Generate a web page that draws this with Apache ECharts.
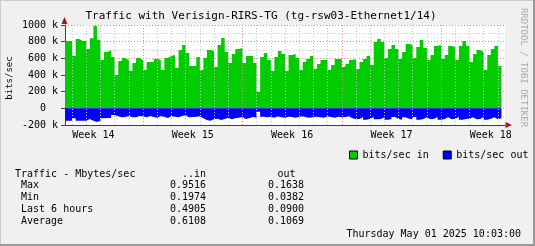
<!DOCTYPE html>
<html><head><meta charset="utf-8">
<script src="https://cdn.jsdelivr.net/npm/echarts@6/dist/echarts.min.js"></script>
<style>html,body{margin:0;padding:0;background:#f0f0f0;overflow:hidden}#c{width:535px;height:246px}</style>
</head><body><div id="c"></div>
<script>
const titleText = 'Traffic with Verisign-RIRS-TG (tg-rsw03-Ethernet1/14)';
const unitLabel = 'bits/sec';
const watermark = 'RRDTOOL / TOBI OETIKER';
const stepHours = 6;
const spanHours = 744;
// 6-hourly averages, k bits/sec
const inValues = [
 808,808,628,832,808,808,712,840,988,820,580,676,700,616,400,568,604,580,448,544,
 604,580,460,556,556,592,580,460,604,628,640,484,700,760,664,508,508,616,
 460,604,700,688,496,760,844,676,544,652,712,724,544,628,628,544,196,616,664,580,
 448,616,688,652,448,640,652,604,460,556,592,628,472,532,580,580,460,520,592,592,496,532,
 580,592,472,556,592,628,520,796,832,796,604,712,760,712,592,676,772,760,604,736,
 820,724,580,640,748,760,592,640,748,736,580,748,808,748,556,652,700,676,460,640,712,748,508
];
const outValues = [
 148,148,120,148,148,148,128,148,164,148,
 120,116,116,80,96,108,104,92,108,108,92,
 96,108,92,104,112,92,100,116,92,100,108,92,84,108,104,100,96,
 120,140,148,132,124,140,128,112,132,120,112,104,128,116,104,112,40,100,
 108,100,112,96,108,112,100,104,112,100,96,108,112,104,100,108,112,96,104,112,100,108,104,96,
 120,132,128,104,136,124,104,132,128,108,136,132,104,128,136,108,124,132,104,136,128,108,132,124,
 104,136,128,108,132,124,104,136,128,124,108,132,128,104,136,124,108,132,120
];
const dayLines = [12,36,60,84,108,132,156,180,204,228,252,276,300,324,348,372,396,420,444,468,492,516,540,564,588,612,636,660,684,708,732];
const weekLines = [132,300,468,636];
const weekLabelAt = [48,216,384,552,720];
const weekLabels = ['Week 14','Week 15','Week 16','Week 17','Week 18'];
const seriesNames = ['bits/sec in','bits/sec out'];
const statHeader = ['Traffic - Mbytes/sec','..in','out'];
const statRows = ['Max','Min','Last 6 hours','Average'];
const statIn = ['0.9516','0.1974','0.4905','0.6108'];
const statOut = ['0.1638','0.0382','0.0900','0.1069'];
const dateText = 'Thursday May 01 2025 10:03:00';

const MONO = '"DejaVu Sans Mono", monospace';
function stepData(vals, sign){
  const d = vals.map((v,i)=>[i*stepHours, sign*v]);
  d.push([vals.length*stepHours, sign*vals[vals.length-1]]);
  return d;
}
const chart = echarts.init(document.getElementById('c'), null, {renderer:'canvas'});
const gridLine = (x,c)=>({xAxis:x, lineStyle:{color:c, type:[1,2], width:1}});
const statTexts = [];
const rowY = [185, 197.3, 209.3, 221.7];
statTexts.push({type:'text', x:15, y:174.3, style:{text:statHeader[0], font:'10px '+MONO, fill:'#000', verticalAlign:'middle'}});
statTexts.push({type:'text', x:206, y:174.3, style:{text:statHeader[1], font:'10px '+MONO, fill:'#000', align:'right', verticalAlign:'middle'}});
statTexts.push({type:'text', x:295.5, y:174.3, style:{text:statHeader[2], font:'10px '+MONO, fill:'#000', align:'right', verticalAlign:'middle'}});
statRows.forEach((r,i)=>{
  statTexts.push({type:'text', x:21, y:rowY[i], style:{text:r, font:'10px '+MONO, fill:'#000', verticalAlign:'middle'}});
  statTexts.push({type:'text', x:206, y:rowY[i], style:{text:statIn[i], font:'10px '+MONO, fill:'#000', align:'right', verticalAlign:'middle'}});
  statTexts.push({type:'text', x:304, y:rowY[i], style:{text:statOut[i], font:'10px '+MONO, fill:'#000', align:'right', verticalAlign:'middle'}});
});
chart.setOption({
  animation:false,
  backgroundColor:'#f0f0f0',
  grid:{left:65, top:25, width:440, height:100, show:true, backgroundColor:'#ffffff', borderWidth:0},
  legend:{data:seriesNames, left:344, top:145, icon:'rect', itemWidth:8, itemHeight:8, itemGap:14, itemTextGap:5,
    itemStyle:{borderColor:'#000', borderWidth:1},
    textStyle:{fontFamily:MONO, fontSize:10, color:'#000'}, selectedMode:false},
  xAxis:[{type:'value', min:0, max:spanHours,
    axisLine:{show:true, onZero:false, lineStyle:{color:'#404040', width:1}},
    axisTick:{show:false}, splitLine:{show:false},
    axisLabel:{show:true, customValues:weekLabelAt, margin:5, fontFamily:MONO, fontSize:10, color:'#000',
      formatter:(v)=>{const k=weekLabelAt.indexOf(v); return k>=0?weekLabels[k]:'';}}}],
  yAxis:[{type:'value', min:-200, max:1000, interval:200,
    axisLine:{show:true, lineStyle:{color:'#404040', width:1}},
    axisTick:{show:true, length:4, lineStyle:{color:'#404040'}},
    axisLabel:{margin:7, fontFamily:MONO, fontSize:10, color:'#000', formatter:(v)=> v===0 ? '0  ' : v+' k'},
    splitLine:{show:true, lineStyle:{color:'#e08a8a', type:[1,2], width:1}},
    minorTick:{show:false, splitNumber:2},
    minorSplitLine:{show:true, lineStyle:{color:'#c8c8c8', type:[1,2], width:1}}}],
  series:[
    {type:'line', name:'grid', data:[], z:1, silent:true,
     markLine:{silent:true, symbol:'none', label:{show:false}, animation:false,
       data: dayLines.map(h=>gridLine(h,'#c8c8c8')).concat(weekLines.map(h=>gridLine(h,'#e08a8a')))}},
    {type:'line', name:seriesNames[0], step:'end', symbol:'none', showSymbol:false, silent:true, z:3,
     color:'#00cc00', lineStyle:{width:0}, areaStyle:{color:'#00cc00', opacity:1}, data:stepData(inValues,1)},
    {type:'line', name:seriesNames[1], step:'end', symbol:'none', showSymbol:false, silent:true, z:3,
     color:'#0000ff', lineStyle:{width:0}, areaStyle:{color:'#0000ff', opacity:1}, data:stepData(outValues,-1)}
  ],
  graphic:[
    {type:'text', x:261, y:16, style:{text:titleText, font:'11px '+MONO, fill:'#000', align:'center', verticalAlign:'middle'}},
    {type:'text', x:9.5, y:78, rotation:Math.PI/2, style:{text:unitLabel, font:'9px '+MONO, fill:'#000', align:'center', verticalAlign:'middle'}},
    {type:'text', x:523.5, y:67.5, rotation:-Math.PI/2, style:{text:watermark, font:'9px '+MONO, fill:'#a8a8a8', align:'center', verticalAlign:'middle'}},
    {type:'text', x:521, y:234, style:{text:dateText, font:'10px '+MONO, fill:'#000', align:'right', verticalAlign:'middle'}},
    {type:'polygon', z:100, shape:{points:[[64.5,17],[61.5,24],[67.5,24]]}, style:{fill:'#a01818'}},
    {type:'polygon', z:100, shape:{points:[[512,125],[505.5,122],[505.5,128]]}, style:{fill:'#a01818'}},
    {type:'rect', z:100, shape:{x:0,y:0,width:535,height:1}, style:{fill:'#cbcbcb'}},
    {type:'rect', z:100, shape:{x:0,y:0,width:1,height:246}, style:{fill:'#cbcbcb'}},
    {type:'rect', z:100, shape:{x:0,y:244,width:535,height:2}, style:{fill:'#999999'}},
    {type:'rect', z:100, shape:{x:533,y:0,width:2,height:246}, style:{fill:'#999999'}}
  ].concat(statTexts)
});
</script></body></html>
